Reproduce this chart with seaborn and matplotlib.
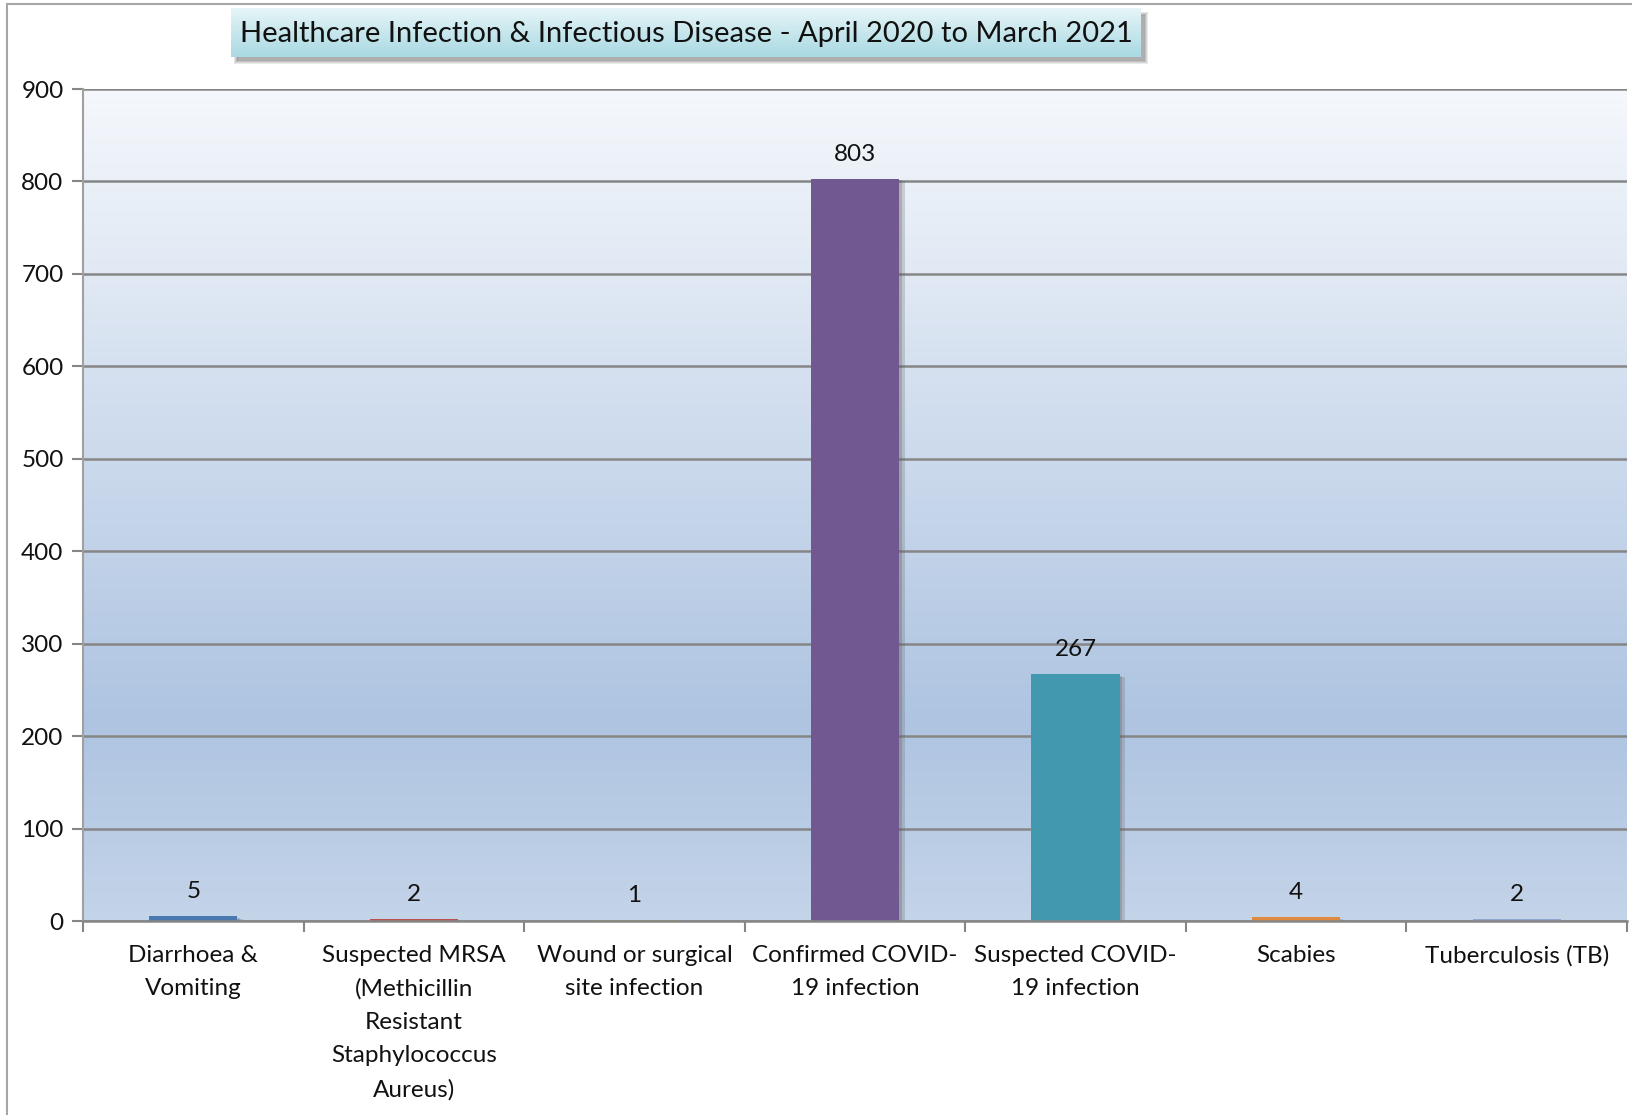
import numpy as np
import pandas as pd
import matplotlib
matplotlib.use("Agg")
import matplotlib.pyplot as plt
import matplotlib.patheffects as pe
from matplotlib.patches import Rectangle
import seaborn as sns

categories = ["Diarrhoea &\nVomiting",
              "Suspected MRSA\n(Methicillin\nResistant\nStaphylococcus\nAureus)",
              "Wound or surgical\nsite infection",
              "Confirmed COVID-\n19 infection",
              "Suspected COVID-\n19 infection",
              "Scabies",
              "Tuberculosis (TB)"]
values = [5, 2, 1, 803, 267, 4, 2]
colors = ["#4a78b0", "#b9504d", "#95b25a", "#725890", "#4198af", "#e08a40", "#8fa6cf"]
yticks = [0, 100, 200, 300, 400, 500, 600, 700, 800, 900]
title = "Healthcare Infection & Infectious Disease - April 2020 to March 2021"

sns.set_theme(style="white")
plt.rcParams['font.family'] = ['Lato', 'DejaVu Sans']

W, H = 1632, 1115
fig = plt.figure(figsize=(W / 100, H / 100), dpi=100)
fig.patch.set_facecolor("white")

def px(x0, y0, x1, y1):
    return [x0 / W, 1 - y1 / H, (x1 - x0) / W, (y1 - y0) / H]

ax = fig.add_axes(px(83, 89, 1627, 921))

# gradient background
c_top = np.array([0xf5, 0xf8, 0xfc]) / 255
c_mid = np.array([0xae, 0xc4, 0xe1]) / 255
c_bot = np.array([0xc4, 0xd4, 0xe9]) / 255
t = np.linspace(0, 1, 400)
grad = np.zeros((400, 1, 3))
for i, tv in enumerate(t):
    if tv <= 0.76:
        f = tv / 0.76
        grad[i, 0] = c_top * (1 - f) + c_mid * f
    else:
        f = (tv - 0.76) / 0.24
        grad[i, 0] = c_mid * (1 - f) + c_bot * f
ax.imshow(grad, extent=[-0.5, 6.5, 0, 900], aspect="auto", origin="upper", zorder=0)

df = pd.DataFrame({"cat": categories, "val": values})
sns.barplot(data=df, x="cat", y="val", hue="cat", palette=colors, width=0.4,
            legend=False, ax=ax, zorder=3, saturation=1, linewidth=0, edgecolor="none")
for p in ax.patches:
    p.set_path_effects([pe.SimplePatchShadow(offset=(4, -2), shadow_rgbFace="#666666", alpha=0.25),
                        pe.SimplePatchShadow(offset=(2, -1), shadow_rgbFace="#555555", alpha=0.25),
                        pe.Normal()])

ax.set_xlim(-0.5, 6.5)
ax.set_ylim(0, 900)
ax.set_yticks(yticks)
ax.set_yticklabels([str(v) for v in yticks])
for v in yticks:
    ax.axhline(v, color="#868686", lw=1.8, zorder=2)

for i, v in enumerate(values):
    ax.annotate(str(v), (i, v), xytext=(0, 10), textcoords="offset points",
                ha="center", va="bottom", fontsize=17.5, color="#111111")

ax.set_xlabel("")
ax.set_ylabel("")
ax.tick_params(axis="x", which="major", length=0, pad=17, labelsize=17.5, labelcolor="#111111")
ax.set_xticks(np.arange(-0.5, 7, 1), minor=True)
ax.tick_params(axis="x", which="minor", length=8, width=1.5, color="#868686", direction="out", bottom=True)
ax.tick_params(axis="y", which="major", length=8, width=1.5, color="#868686", direction="out", left=True,
               labelsize=17.5, labelcolor="#111111", pad=6)
for lbl in ax.get_xticklabels():
    lbl.set_linespacing(1.72)
for s in ["top", "right"]:
    ax.spines[s].set_visible(False)
ax.spines["left"].set_color("#a0a0a0")
ax.spines["left"].set_linewidth(1.5)
ax.spines["bottom"].set_color("#868686")
ax.spines["bottom"].set_linewidth(1.8)
ax.spines["bottom"].set_zorder(5)

# figure border
fig.add_artist(Rectangle((7 / W, -0.01), 2, 1 - 4 / H + 0.01, transform=fig.transFigure,
                         fill=False, edgecolor="#a6a6a6", lw=1.5))

# title box soft shadow
for k, a in enumerate([0.10, 0.12, 0.15, 0.2]):
    d = 4 - k
    sh = fig.add_axes(px(231 + 3 + k, 8 + 4 + k, 1141 + 3 + d, 57 + 3 + d))
    sh.set_axis_off()
    sh.add_patch(Rectangle((0, 0), 1, 1, transform=sh.transAxes, color="#555555", alpha=a))
tax = fig.add_axes(px(231, 8, 1141, 57))
tg = np.zeros((50, 1, 3))
ct = np.array([0xe6, 0xf5, 0xf7]) / 255
cb = np.array([0xa9, 0xd9, 0xe3]) / 255
for i in range(50):
    f = i / 49
    tg[i, 0] = ct * (1 - f) + cb * f
tax.imshow(tg, extent=[0, 1, 0, 1], aspect="auto", origin="upper")
tax.set_axis_off()
tax.text(0.5, 0.47, title, ha="center", va="center", fontsize=21, color="#111111", transform=tax.transAxes)

fig.savefig("out.png", dpi=100)
